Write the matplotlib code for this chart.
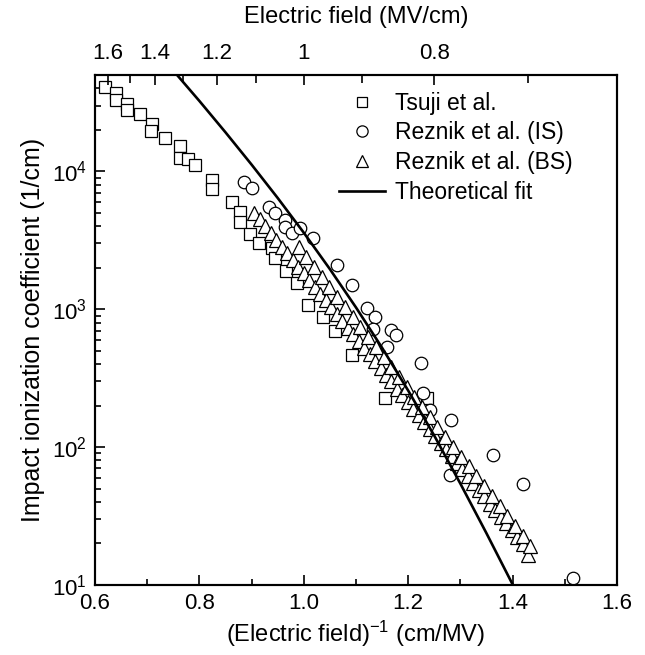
import numpy as np
import matplotlib
matplotlib.use("Agg")
import matplotlib.pyplot as plt

plt.rcParams['font.family'] = ['Liberation Sans', 'DejaVu Sans']
plt.rcParams['mathtext.fontset'] = 'custom'
plt.rcParams['mathtext.rm'] = 'Liberation Sans'
plt.rcParams['mathtext.it'] = 'Liberation Sans:italic'

# Tsuji et al. (squares)
tsuji_x = [0.619, 0.640, 0.640, 0.661, 0.661, 0.686, 0.709, 0.707, 0.734, 0.763,
           0.763, 0.778, 0.792, 0.824, 0.824, 0.862, 0.878, 0.878, 0.897, 0.915,
           0.939, 0.945, 0.965, 0.987, 1.008, 1.037, 1.060, 1.092, 1.156, 1.236]
tsuji_y = [40600, 37300, 33200, 30900, 28100, 25900, 21900, 19500, 17600, 15200,
           12600, 12200, 11200, 8600, 7400, 5960, 5050, 4270, 3490, 3000,
           2770, 2340, 1900, 1540, 1070, 875, 700, 464, 226, 226]

# Reznik et al. (IS) (circles)
is_x = [0.885, 0.901, 0.933, 0.945, 0.964, 0.964, 0.977, 0.993, 1.018, 1.064,
        1.092, 1.121, 1.136, 1.133, 1.167, 1.177, 1.159, 1.225, 1.228, 1.242,
        1.282, 1.280, 1.362, 1.420, 1.515]
is_y = [8320, 7530, 5490, 4970, 4420, 3930, 3560, 3870, 3270, 2080,
        1490, 1016, 875, 716, 705, 649, 531, 406, 246, 185,
        157, 63, 87.5, 54, 11.2]

# Reznik et al. (BS) (triangles), two overlapping runs
bs_x = [0.905, 0.916, 0.926, 0.937, 0.947, 0.958, 0.968, 0.979, 0.989, 1.000,
        1.010, 1.021, 1.031, 1.042, 1.052, 1.063, 1.073, 1.084, 1.094, 1.105,
        1.115, 1.126, 1.136, 1.147, 1.157, 1.168, 1.178, 1.189, 1.199, 1.210,
        1.220, 1.231, 1.241, 1.252, 1.262, 1.273, 1.283, 1.294, 1.304, 1.315,
        1.325, 1.336, 1.346, 1.357, 1.367, 1.378, 1.388, 1.399, 1.409, 1.420,
        1.430,
        0.990, 1.005, 1.020, 1.034, 1.049, 1.064, 1.079, 1.094, 1.108, 1.123,
        1.138, 1.153, 1.168, 1.182, 1.197, 1.212, 1.227, 1.242, 1.256, 1.271,
        1.286, 1.301, 1.316, 1.330, 1.345, 1.360, 1.375, 1.390, 1.404, 1.419,
        1.434]
bs_y = [5000, 4480, 4000, 3570, 3190, 2850, 2550, 2280, 2030, 1820,
        1620, 1450, 1290, 1160, 1030, 920, 825, 735, 660, 590,
        525, 470, 420, 375, 335, 300, 265, 240, 213, 190,
        170, 152, 136, 121, 108, 97, 86, 77, 69, 61.5,
        55, 49, 44, 39, 35, 31, 28, 25, 22.3, 19.9,
        16.5,
        2820, 2390, 2020, 1710, 1450, 1230, 1040, 880, 745, 630,
        533, 452, 383, 324, 274, 232, 196, 166, 141, 119,
        101, 85.5, 72.4, 61.3, 51.9, 44, 37.2, 31.5, 26.7, 22.6,
        19.1]

# Theoretical fit
fit_x = [0.70, 0.75, 0.80, 0.85, 0.90, 0.95, 1.00, 1.05, 1.10, 1.15,
         1.20, 1.25, 1.30, 1.35, 1.40, 1.42]
fit_y = [88300, 53800, 32400, 19190, 11190, 6410, 3590, 1954, 1030, 525,
         257, 121, 54.3, 23.7, 10.1, 7.2]

# top axis (electric field, MV/cm)
top_major = [1.6, 1.4, 1.2, 1.0, 0.8]
top_major_labels = ['1.6', '1.4', '1.2', '1', '0.8']
top_minor = [1.5, 1.3, 1.1, 0.9, 0.7]

fig = plt.figure(figsize=(6.45, 6.55), dpi=100)
ax = fig.add_axes([95 / 645, 1 - 585 / 655, 522 / 645, 510 / 655])

mk = dict(linestyle='none', markerfacecolor='white', markeredgecolor='black',
          markeredgewidth=0.9)
ax.plot(tsuji_x, tsuji_y, marker='s', markersize=8, label='Tsuji et al.', **mk)
ax.plot(is_x, is_y, marker='o', markersize=9, label='Reznik et al. (IS)', **mk)
ax.plot(bs_x, bs_y, marker='^', markersize=10, label='Reznik et al. (BS)', **mk)
ax.plot(fit_x, fit_y, color='black', linewidth=1.9, label='Theoretical fit')

ax.set_yscale('log')
ax.set_xlim(0.6, 1.6)
ax.set_ylim(10, 5e4)
ax.set_xticks([0.6, 0.8, 1.0, 1.2, 1.4, 1.6])
ax.set_xticklabels(['0.6', '0.8', '1.0', '1.2', '1.4', '1.6'])
ax.set_xticks(np.arange(0.7, 1.6, 0.2), minor=True)

ax.tick_params(which='both', direction='in', width=1.2, labelsize=16)
ax.tick_params(which='major', length=7, pad=6)
ax.tick_params(which='minor', length=4)
ax.tick_params(axis='x', top=False)
ax.tick_params(axis='y', right=False)
for s in ax.spines.values():
    s.set_linewidth(1.5)

ax.set_xlabel('(Electric field)$^{-1}$ (cm/MV)', fontsize=17, labelpad=3)
ax.set_ylabel('Impact ionization coefficient (1/cm)', fontsize=18, labelpad=5)

top = ax.twiny()
top.set_xlim(ax.get_xlim())
top.set_xticks([1 / e for e in top_major])
top.set_xticklabels(top_major_labels)
top.set_xticks([1 / e for e in top_minor], minor=True)
top.tick_params(which='both', direction='in', width=1.2, labelsize=16)
top.tick_params(which='major', length=7, pad=8)
top.tick_params(which='minor', length=6)
top.set_xlabel('Electric field (MV/cm)', fontsize=17, labelpad=14)
for s in top.spines.values():
    s.set_linewidth(1.5)

ax.legend(loc='upper left', bbox_to_anchor=(0.428, 1.008), frameon=False,
          fontsize=16.5, handlelength=2.0, handletextpad=0.45,
          labelspacing=0.3, markerscale=0.9)

fig.savefig('out.png', dpi=100)
